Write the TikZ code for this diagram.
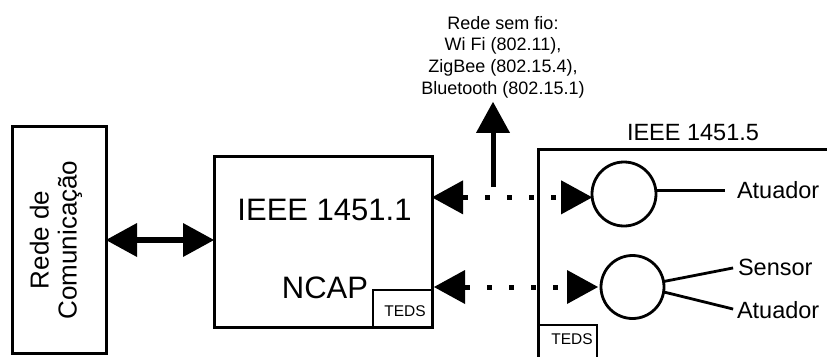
\documentclass[tikz,border=0pt]{standalone}
\usepackage{fontspec}
\setmainfont{Liberation Sans}
\usetikzlibrary{arrows.meta}
\begin{document}
\begin{tikzpicture}[x=1pt,y=-1pt,
  box/.style={draw,line width=3pt,inner sep=0pt,outer sep=0pt},
  smallbox/.style={draw,line width=1.5pt,inner sep=0pt,outer sep=0pt},
  lbl/.style={inner sep=0pt,outer sep=0pt},
  tedsfont/.style={font=\fontsize{15.5}{17}\selectfont},
  circ/.style={draw,circle,line width=2.8pt,minimum size=64pt,inner sep=0pt,outer sep=0pt},
  wire/.style={line width=2.8pt},
  tip/.tip={Triangle[length=31pt,width=34pt,line width=0pt]},
  bigarrow/.style={line width=6pt,tip-tip},
  uparrow/.style={line width=5pt,-tip},
  dotlink/.style={line width=5pt,dash pattern=on 5pt off 17pt,tip-tip}]
\useasboundingbox (0,0) rectangle (827,356);
\clip (0,0) rectangle (827,356);

% left box
\node[box,minimum width=94pt,minimum height=227.5pt] (rede) at (59,240) {};
\node[lbl,rotate=90,align=center,font=\fontsize{26}{28}\selectfont] (redetxt) at (56,240) {Rede de\\Comunicação};

% NCAP box
\node[box,minimum width=218pt,minimum height=171pt] (ncap) at (323,241.5) {};
\node[lbl,font=\fontsize{31}{34}\selectfont] (std1) at (324.5,210) {IEEE 1451.1};
\node[lbl,font=\fontsize{31}{34}\selectfont] (ncaptxt) at (325,287.5) {NCAP};
\node[smallbox,minimum width=59pt,minimum height=37pt,anchor=south east] (teds1) at (ncap.south east) {};
\node[lbl,tedsfont] (teds1txt) at (405,311) {TEDS};

% right box (cut by the page edge)
\node[box,minimum width=320pt,minimum height=240pt,anchor=north west] (tim) at (538,149) {};
\node[lbl,font=\fontsize{23.5}{26}\selectfont] (std5) at (693,133) {IEEE 1451.5};
\draw[line width=1.5pt] (538,325) -- (597,325) -- (597,370);
\node[lbl,tedsfont] (teds2) at (572,339.5) {TEDS};

% circles
\node[circ] (c1) at (624,194) {};
\node[circ,minimum size=63pt] (c2) at (632.5,287) {};

% labels on the right
\node[lbl,anchor=west,font=\fontsize{23.5}{26}\selectfont] (a1) at (737,190) {Atuador};
\node[lbl,anchor=west,font=\fontsize{23.5}{26}\selectfont] (s2) at (738,267) {Sensor};
\node[lbl,anchor=west,font=\fontsize{23.5}{26}\selectfont] (a2) at (737,310) {Atuador};

\draw[wire,shorten >=12pt] (c1.7) -- (c1.7 -| a1.west);
\draw[wire,shorten >=5pt] (c2.10) -- (s2.west);
\draw[wire,shorten >=4pt] (c2.351) -- (a2.west);

% wireless
\node[lbl,anchor=north,align=center,font=\fontsize{18}{21.7}\selectfont] (wifi) at (503,16)
  {Rede sem fio:\\Wi Fi (802.11),\\ZigBee (802.15.4),\\Bluetooth (802.15.1)};
\coordinate (ws) at (493,187);
\draw[uparrow,shorten >=4pt] (ws) -- (ws |- wifi.south);

% connectors
\draw[bigarrow] (rede.east) -- (rede.east -| ncap.west);
\draw[dotlink] (ncap.east |- c1.186) -- (c1.186);
\draw[dotlink,shorten <=2pt,shorten >=3pt] (ncap.east |- c2.west) -- (c2.west);
\end{tikzpicture}
\end{document}
